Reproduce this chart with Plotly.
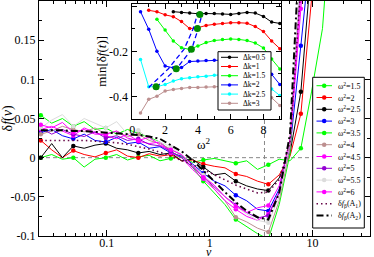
import math
import plotly.graph_objects as go

# ---------------- main panel data ----------------
nu = [0.0228, 0.0291, 0.0370, 0.0472, 0.0602, 0.0767, 0.0977, 0.1246, 0.1588, 0.2024,
      0.2579, 0.3287, 0.4190, 0.5340, 0.6806, 0.8675, 1.106, 1.409, 1.796, 2.289,
      2.917, 3.718, 4.739, 6.040, 7.698, 9.811, 12.50, 15.94]

w15 = [0.000, 0.004, -0.002, 0.000, -0.012, -0.002, 0.000, 0.004, -0.003, 0.001,
       0.003, -0.004, -0.001, 0.002, -0.006, -0.003, -0.001, -0.004, -0.007, -0.004,
       -0.015, -0.009, -0.002, -0.004, 0.012, 0.085, 0.165, 0.35]
w20 = [0.022, 0.010, 0.000, 0.009, 0.004, 0.001, 0.006, 0.010, 0.002, 0.000,
       0.005, 0.002, 0.004, -0.004, -0.003, -0.008, -0.011, -0.013, -0.021, -0.024,
       -0.030, -0.034, -0.022, 0.002, 0.056, 0.20, 0.35, 0.50]
w25 = [0.000, 0.018, 0.000, 0.015, 0.012, 0.016, 0.018, 0.012, 0.010, 0.006,
       0.008, 0.004, 0.006, -0.004, -0.002, -0.012, -0.022, -0.020, -0.030, -0.036,
       -0.040, -0.042, -0.026, 0.006, 0.084, 0.25, 0.40, 0.50]
w30 = [0.032, 0.036, 0.028, 0.024, 0.030, 0.022, 0.020, 0.026, 0.018, 0.020,
       0.012, 0.014, 0.006, 0.002, -0.008, -0.020, -0.030, -0.036, -0.048, -0.055,
       -0.066, -0.068, -0.040, 0.012, 0.143, 0.30, 0.45, 0.55]
w35 = [0.054, 0.044, 0.050, 0.040, 0.046, 0.036, 0.038, 0.030, 0.036, 0.031,
       0.026, 0.020, 0.008, 0.000, -0.012, -0.030, -0.045, -0.060, -0.079, -0.088,
       -0.097, -0.104, -0.060, 0.005, 0.24, 0.45, 0.60, 0.70]
w40 = [0.030, 0.034, 0.040, 0.036, 0.033, 0.038, 0.030, 0.034, 0.027, 0.030,
       0.022, 0.018, 0.011, 0.003, -0.010, -0.022, -0.040, -0.055, -0.076, -0.082,
       -0.090, -0.095, -0.055, 0.012, 0.24, 0.45, 0.60, 0.70]
w45 = [0.036, 0.040, 0.034, 0.028, 0.038, 0.032, 0.028, 0.024, 0.030, 0.021,
       0.018, 0.020, 0.006, 0.000, -0.015, -0.027, -0.040, -0.055, -0.066, -0.075,
       -0.080, -0.072, -0.044, 0.018, 0.19, 0.40, 0.60, 0.70]
w50 = [0.038, 0.030, 0.036, 0.030, 0.027, 0.033, 0.025, 0.028, 0.022, 0.024,
       0.017, 0.015, 0.008, 0.000, -0.012, -0.025, -0.038, -0.050, -0.060, -0.070,
       -0.077, -0.074, -0.045, 0.020, 0.23, 0.45, 0.60, 0.70]
w55 = [0.038, 0.048, 0.055, 0.040, 0.050, 0.044, 0.038, 0.046, 0.030, 0.035,
       0.024, 0.020, 0.014, 0.004, -0.010, -0.022, -0.035, -0.050, -0.062, -0.072,
       -0.080, -0.083, -0.050, 0.020, 0.25, 0.45, 0.60, 0.70]
w60 = [0.042, 0.038, 0.045, 0.032, 0.036, 0.030, 0.030, 0.034, 0.025, 0.022,
       0.026, 0.016, 0.010, 0.004, -0.010, -0.025, -0.035, -0.050, -0.062, -0.070,
       -0.064, -0.061, -0.036, 0.024, 0.21, 0.40, 0.60, 0.70]
beta_A1 = [0.022, 0.022, 0.022, 0.022, 0.022, 0.021, 0.020, 0.019, 0.017, 0.014,
           0.011, 0.007, 0.002, -0.003, -0.009, -0.015, -0.022, -0.029, -0.035, -0.040,
           -0.045, -0.044, -0.028, 0.020, 0.22, 0.45, 0.60, 0.70]
beta_A2 = [0.035, 0.035, 0.035, 0.034, 0.034, 0.033, 0.032, 0.031, 0.030, 0.029,
           0.027, 0.024, 0.016, 0.008, -0.003, -0.016, -0.030, -0.044, -0.057, -0.068,
           -0.076, -0.079, -0.045, 0.030, 0.30, 0.50, 0.60, 0.70]

omega_names = ["1.5", "2", "2.5", "3", "3.5", "4", "4.5", "5", "5.5", "6"]
omega_colors = ["#00ff00", "#ff0000", "#000000", "#0000ff", "#00ff00",
                "#bc8f8f", "#ff00ff", "#9400d3", "#dcdcdc", "#ff00ff"]
omega_series = [w15, w20, w25, w30, w35, w40, w45, w50, w55, w60]
nu_marker_line = 3.41   # vertical dashed reference line

# ---------------- inset data ----------------
ik05_x = [2.5, 3.0, 3.5, 4.0, 4.5, 5.0, 5.5, 6.0, 6.5, 7.0, 7.5, 8.0, 8.5, 9.0]
ik05_y = [-0.024, -0.027, -0.030, -0.033, -0.032, -0.032, -0.034, -0.036, -0.032, -0.027,
          -0.030, -0.045, -0.070, -0.076]
ik10_x = [1.0, 1.5, 2.0, 2.5, 3.0, 3.5, 4.0, 4.5, 5.0, 5.5, 6.0, 6.5, 7.0, 7.5, 8.0, 8.5, 9.0]
ik10_y = [-0.018, -0.024, -0.038, -0.046, -0.068, -0.099, -0.095, -0.085, -0.080, -0.076,
          -0.073, -0.073, -0.075, -0.090, -0.112, -0.154, -0.188]
ik15_x = [1.5, 2.0, 2.5, 3.0, 3.5, 4.0, 4.5, 5.0, 5.5, 6.0, 6.5, 7.0, 7.5, 8.0, 8.5, 9.0]
ik15_y = [-0.058, -0.105, -0.154, -0.184, -0.191, -0.176, -0.161, -0.152, -0.147, -0.145,
          -0.147, -0.152, -0.163, -0.185, -0.234, -0.278]
ik20_x = [0.5, 1.0, 1.5, 2.0, 2.5, 3.0, 3.5, 4.0, 4.5, 5.0, 5.5, 6.0, 6.5, 7.0, 7.5, 8.0, 8.5, 9.0]
ik20_y = [-0.024, -0.102, -0.199, -0.265, -0.273, -0.272, -0.245, -0.243, -0.240, -0.239,
          -0.238, -0.237, -0.237, -0.240, -0.250, -0.270, -0.302, -0.347]
ik25_x = [0.5, 1.0, 1.5, 2.0, 2.5, 3.0, 3.5, 4.0, 4.5, 5.0, 5.5, 6.0, 6.5, 7.0, 7.5, 8.0, 8.5, 9.0]
ik25_y = [-0.236, -0.357, -0.357, -0.347, -0.332, -0.321, -0.317, -0.313, -0.310, -0.306,
          -0.303, -0.303, -0.305, -0.310, -0.325, -0.345, -0.367, -0.396]
ik30_x = [0.5, 1.0, 1.5, 2.0, 2.5, 3.0, 3.5, 4.0, 4.5, 5.0, 5.5, 6.0, 6.5, 7.0, 7.5, 8.0, 8.5, 9.0]
ik30_y = [-0.473, -0.413, -0.399, -0.376, -0.369, -0.365, -0.360, -0.360, -0.358, -0.357,
          -0.356, -0.356, -0.358, -0.365, -0.380, -0.390, -0.406, -0.440]
dk_names = ["0.5", "1", "1.5", "2", "2.5", "3"]
dk_colors = ["#000000", "#ff0000", "#00ff00", "#0000ff", "#00ffff", "#bc8f8f"]
dk_series = [(ik05_x, ik05_y), (ik10_x, ik10_y), (ik15_x, ik15_y),
             (ik20_x, ik20_y), (ik25_x, ik25_y), (ik30_x, ik30_y)]

min_x = [1.45, 2.68, 3.60, 3.97, 4.12]
min_y = [-0.357, -0.277, -0.191, -0.099, -0.036]
fitL_x = [1.0, 2.2, 3.15, 3.72, 4.0]
fitL_y = [-0.360, -0.277, -0.191, -0.099, -0.028]
fitR_x = [1.45, 2.70, 3.62, 4.02, 4.28]
fitR_y = [-0.360, -0.277, -0.191, -0.099, -0.028]

FONT = "Liberation Serif"
fig = go.Figure()

# ---------- main traces ----------
for vals, col in zip(omega_series, omega_colors):
    fig.add_trace(go.Scatter(x=nu, y=vals, mode="lines", line=dict(color=col, width=1),
                             hoverinfo="skip", xaxis="x", yaxis="y"))
    fig.add_trace(go.Scatter(x=nu[::3], y=vals[::3], mode="markers",
                             marker=dict(color=col, size=4.5), hoverinfo="skip",
                             xaxis="x", yaxis="y"))
fig.add_trace(go.Scatter(x=nu, y=beta_A1, mode="lines",
                         line=dict(color="#670748", width=1.6, dash="1.5px,3px"),
                         xaxis="x", yaxis="y"))
fig.add_trace(go.Scatter(x=nu, y=beta_A2, mode="lines",
                         line=dict(color="#000000", width=2, dash="7px,3px,2px,3px"),
                         xaxis="x", yaxis="y"))

# ---------- inset traces ----------
for (xs, ys), col in zip(dk_series, dk_colors):
    fig.add_trace(go.Scatter(x=xs, y=ys, mode="lines+markers",
                             line=dict(color=col, width=1),
                             marker=dict(color=col, size=3.5), xaxis="x2", yaxis="y2"))
for fx, fy in [(fitL_x, fitL_y), (fitR_x, fitR_y)]:
    fig.add_trace(go.Scatter(x=fx, y=fy, mode="lines",
                             line=dict(color="#0000ff", width=1.3, dash="5px,3px"),
                             xaxis="x2", yaxis="y2"))
fig.add_trace(go.Scatter(x=min_x, y=min_y, mode="markers",
                         marker=dict(color="#008b00", size=7), xaxis="x2", yaxis="y2"))

# ---------- custom legends (pixel-like coordinate systems) ----------
def box(x0, x1, y0, y1, ax, ay):
    fig.add_trace(go.Scatter(x=[x0, x1, x1, x0, x0], y=[y0, y0, y1, y1, y0], mode="lines",
                             fill="toself", fillcolor="white",
                             line=dict(color="black", width=1), xaxis=ax, yaxis=ay))

annotations = []
# main legend
box(312.7, 364.3, 77.3, 228.0, "x3", "y3")
main_items = [("ω<sup>2</sup>=" + n, c, "solid", 1, True) for n, c in zip(omega_names, omega_colors)]
main_items.append(("δ<i>f</i><sub>β</sub>(A<sub>1</sub>)", "#670748", "1.5px,3px", 1.6, False))
main_items.append(("δ<i>f</i><sub>β</sub>(A<sub>2</sub>)", "#000000", "7px,3px,2px,3px", 2, False))
for i, (txt, col, dash, w, mk) in enumerate(main_items):
    yy = 85.7 + 11.8 * i
    fig.add_trace(go.Scatter(x=[316.5, 332], y=[yy, yy], mode="lines",
                             line=dict(color=col, width=w, dash=dash), xaxis="x3", yaxis="y3"))
    if mk:
        fig.add_trace(go.Scatter(x=[324.2], y=[yy], mode="markers",
                                 marker=dict(color=col, size=4.5), xaxis="x3", yaxis="y3"))
    annotations.append(dict(x=336, y=yy, xref="x3", yref="y3", text=txt, showarrow=False,
                            xanchor="left", yanchor="middle",
                            font=dict(family=FONT, size=8, color="black")))
# inset legend
box(218.0, 271.0, 51.7, 110.0, "x4", "y4")
for i, (n, col) in enumerate(zip(dk_names, dk_colors)):
    yy = 57.3 + 9.2 * i
    fig.add_trace(go.Scatter(x=[221, 238], y=[yy, yy], mode="lines",
                             line=dict(color=col, width=1), xaxis="x4", yaxis="y4"))
    fig.add_trace(go.Scatter(x=[229.5], y=[yy], mode="markers",
                             marker=dict(color=col, size=3.5), xaxis="x4", yaxis="y4"))
    annotations.append(dict(x=240.5, y=yy, xref="x4", yref="y4", text="Δk=" + n, showarrow=False,
                            xanchor="left", yanchor="middle",
                            font=dict(family=FONT, size=7.5, color="black")))

# titles
annotations += [
    dict(x=0.5136, y=-0.068, xref="paper", yref="paper", text="<i>ν</i>", showarrow=False,
         xanchor="center", yanchor="middle", font=dict(family=FONT, size=12)),
    dict(x=-0.094, y=0.50, xref="paper", yref="paper", text="δ<i>f</i>(<i>ν</i>)",
         xanchor="center", yanchor="middle",
         showarrow=False, textangle=-90, font=dict(family=FONT, size=14)),
    dict(x=0.497, y=0.392, xref="paper", yref="paper", text="ω<sup>2</sup>", showarrow=False,
         xanchor="center", yanchor="middle", font=dict(family=FONT, size=13)),
    dict(x=0.19, y=0.745, xref="paper", yref="paper", text="min[δ<i>f</i>(<i>t</i>)]",
         xanchor="center", yanchor="middle",
         showarrow=False, textangle=-90, font=dict(family=FONT, size=13)),
]

ax_common = dict(showline=True, linecolor="black", linewidth=1, mirror="ticks",
                 ticks="inside", tickcolor="black", showgrid=False, zeroline=False,
                 tickfont=dict(family=FONT, size=12, color="black"))

fig.update_layout(
    width=374, height=257, margin=dict(l=39, r=4, t=1, b=21),
    paper_bgcolor="white", plot_bgcolor="rgba(0,0,0,0)", showlegend=False,
    font=dict(family=FONT, size=12, color="black"),
    xaxis=dict(type="log", range=[math.log10(0.0219), math.log10(36.2)], domain=[0, 1],
               tickmode="array", tickvals=[0.1, 1, 10], ticktext=["0.1", "1", "10"], ticklen=6,
               ticklabelstandoff=-4,
               minor=dict(tickmode="array", ticks="inside", ticklen=3, tickcolor="black",
                          tickvals=[0.03, 0.04, 0.05, 0.06, 0.07, 0.08, 0.09,
                                    0.2, 0.3, 0.4, 0.5, 0.6, 0.7, 0.8, 0.9,
                                    2, 3, 4, 5, 6, 7, 8, 9, 20, 30]),
               anchor="y", **ax_common),
    yaxis=dict(range=[-0.1, 0.2], domain=[0, 1], tickmode="array",
               tickvals=[-0.1, -0.05, 0, 0.05, 0.1, 0.15],
               ticktext=["-0.1", "-0.05", "0", "0.05", "0.1", "0.15"], ticklen=5,
               minor=dict(tickmode="array", ticks="inside", ticklen=3, tickcolor="black",
                          tickvals=[-0.075, -0.025, 0.025, 0.075, 0.125, 0.175]),
               anchor="x", **ax_common),
    xaxis2=dict(domain=[0.2795, 0.7326], range=[-0.05, 9.1], anchor="y2", tickmode="array",
                tickvals=[0, 2, 4, 6, 8], ticklen=5,
                minor=dict(tickmode="array", tickvals=[1, 3, 5, 7, 9], ticks="inside",
                           ticklen=3, tickcolor="black"), **ax_common),
    yaxis2=dict(domain=[0.498, 0.989], range=[-0.5, 0.012], anchor="x2", tickmode="array",
                tickvals=[0, -0.2, -0.4], ticktext=["0", "-0.2", "-0.4"], ticklen=5,
                minor=dict(tickmode="array", tickvals=[-0.1, -0.3, -0.5], ticks="inside",
                           ticklen=3, tickcolor="black"), **ax_common),
    xaxis3=dict(domain=[(310 - 39) / 331, (367 - 39) / 331], range=[310, 367],
                visible=False, anchor="y3", fixedrange=True),
    yaxis3=dict(domain=[(236 - 231) / 235, (236 - 74) / 235], range=[231, 74],
                visible=False, anchor="x3", fixedrange=True),
    xaxis4=dict(domain=[(216 - 39) / 331, (273 - 39) / 331], range=[216, 273],
                visible=False, anchor="y4", fixedrange=True),
    yaxis4=dict(domain=[(236 - 112) / 235, (236 - 50) / 235], range=[112, 50],
                visible=False, anchor="x4", fixedrange=True),
    annotations=annotations,
    shapes=[
        dict(type="line", xref="paper", yref="y", x0=0, x1=1, y0=0, y1=0,
             line=dict(color="#888888", width=1, dash="4px,3px"), layer="below"),
        dict(type="line", xref="x", yref="paper", x0=nu_marker_line,
             x1=nu_marker_line, y0=0, y1=0.498,
             line=dict(color="#888888", width=1, dash="4px,3px"), layer="below"),
    ],
)

fig.write_html("out.html", config={"displayModeBar": False},
               post_script="document.body.style.margin='0';document.body.style.overflow='hidden';")
